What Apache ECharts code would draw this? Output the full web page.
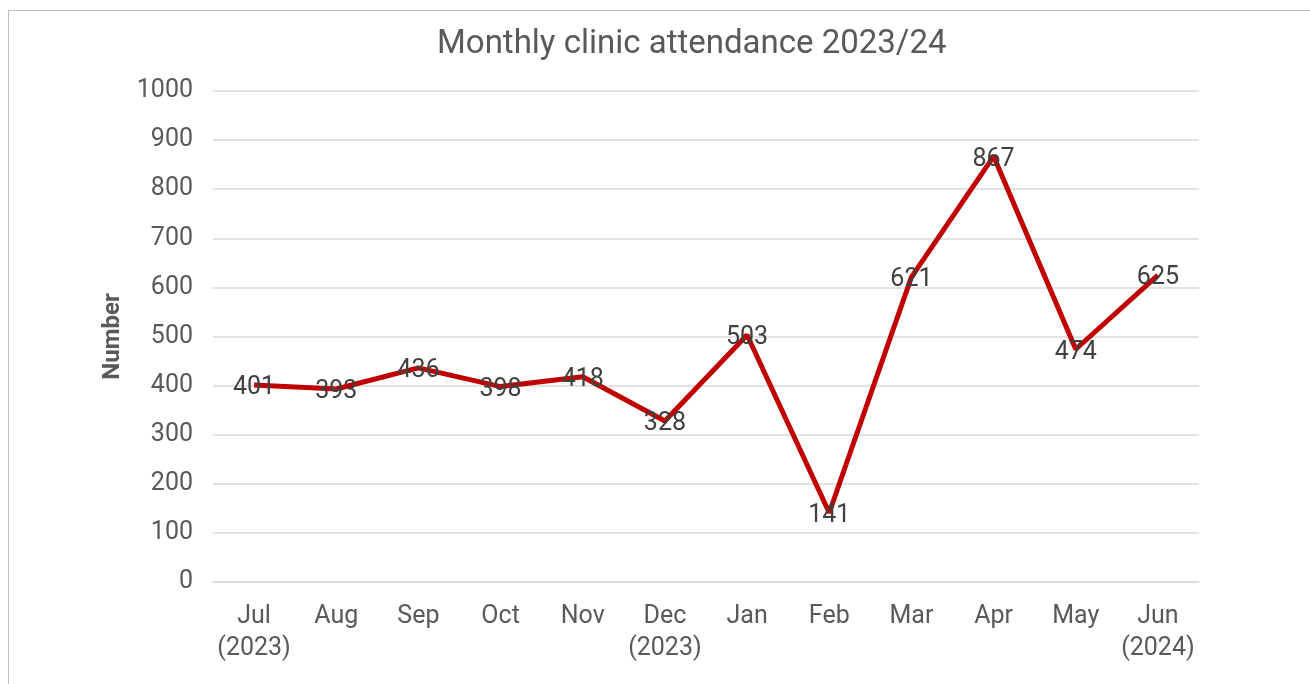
<!DOCTYPE html>
<html>
<head>
<meta charset="utf-8">
<script src="https://cdn.jsdelivr.net/npm/echarts@6/dist/echarts.min.js"></script>
<style>
  html, body { margin: 0; padding: 0; background: #fff; }
  #frame {
    position: absolute; left: 8px; top: 10px; width: 1320px; height: 700px;
    border: 1.5px solid #bfbfbf; box-sizing: border-box;
  }
  #chart { position: absolute; left: 0; top: 0; width: 1310px; height: 684px; }
</style>
</head>
<body>
<div id="frame"></div>
<div id="chart"></div>
<script>
  // 月份及就诊人数
  const months = ['Jul\n(2023)', 'Aug', 'Sep', 'Oct', 'Nov', 'Dec\n(2023)', 'Jan', 'Feb', 'Mar', 'Apr', 'May', 'Jun\n(2024)'];
  const attendance = [401, 393, 436, 398, 418, 328, 503, 141, 621, 867, 474, 625];

  const fontFamily = 'Roboto, sans-serif';

  const chart = echarts.init(document.getElementById('chart'));
  const option = {
    animation: false,
    title: {
      text: 'Monthly clinic attendance 2023/24',
      left: 432,
      top: 23,
      textStyle: { fontFamily, fontSize: 33, fontWeight: 'normal', color: '#595959' }
    },
    grid: { left: 213, right: 111, top: 91, bottom: 102 },
    xAxis: {
      type: 'category',
      data: months,
      boundaryGap: true,
      axisLine: { show: true, lineStyle: { color: '#d9d9d9', width: 1.5 } },
      axisTick: { show: false },
      axisLabel: { interval: 0, fontFamily, fontSize: 25, color: '#595959', margin: 19, lineHeight: 32 }
    },
    yAxis: {
      type: 'value',
      min: 0,
      max: 1000,
      interval: 100,
      name: 'Number',
      nameLocation: 'middle',
      nameGap: 88,
      nameTextStyle: { fontFamily, fontSize: 24, fontWeight: 'bold', color: '#595959' },
      axisLine: { show: false },
      axisTick: { show: false },
      axisLabel: { fontFamily, fontSize: 25, color: '#595959', margin: 20, formatter: v => String(v) },
      splitLine: { lineStyle: { color: '#d9d9d9', width: 1.5 } }
    },
    series: [{
      name: 'Attendance',
      type: 'line',
      data: attendance,
      symbol: 'circle',
      symbolSize: 1,
      showSymbol: true,
      itemStyle: { color: 'rgba(0,0,0,0)' },
      lineStyle: { color: '#C00000', width: 5 },
      label: {
        show: true,
        position: 'inside',
        offset: [0, 3],
        fontFamily,
        fontSize: 25,
        color: '#404040'
      }
    }]
  };
  chart.setOption(option);
</script>
</body>
</html>
